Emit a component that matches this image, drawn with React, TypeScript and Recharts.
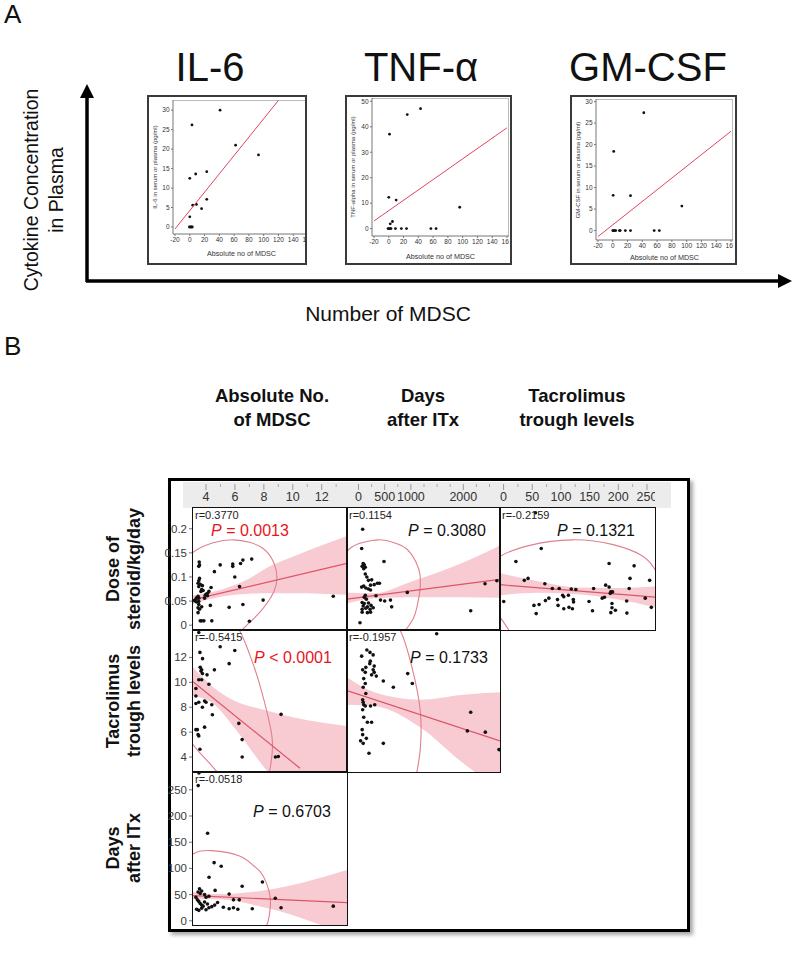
import React from 'react';
import { ScatterChart, ComposedChart, Scatter, Line, Area, XAxis, YAxis } from 'recharts';

const FONT = '"Liberation Sans", Arial, Helvetica, sans-serif';

// ---------------- Panel A data ----------------
const aXTicks = [-20, 0, 20, 40, 60, 80, 100, 120, 140, 160];
const il6YTicks = [0, 5, 10, 15, 20, 25, 30];
const tnfYTicks = [0, 10, 20, 30, 40, 50];
const gmYTicks = [0, 5, 10, 15, 20, 25, 30];

const il6Points = [
  { x: 41, y: 30 }, { x: 3, y: 26.2 }, { x: 62, y: 21 }, { x: 93, y: 18.5 }, { x: 0, y: 12.5 },
  { x: 8, y: 13.6 }, { x: 23, y: 14.2 }, { x: 23, y: 7.1 }, { x: 4, y: 5.6 }, { x: 9, y: 5.8 },
  { x: 16, y: 4.7 }, { x: 0, y: 2.6 }, { x: -0.5, y: 0 }, { x: 1, y: 0 }, { x: 2.2, y: 0 }, { x: 3.4, y: 0 },
];
const il6Fit = [{ x: -20, y: -0.5 }, { x: 120, y: 32.5 }];

const tnfPoints = [
  { x: 43, y: 47.1 }, { x: 25, y: 44.8 }, { x: 1, y: 37.1 }, { x: 0, y: 12.3 }, { x: 10, y: 11.2 },
  { x: 96, y: 8.4 }, { x: 5, y: 2.8 }, { x: 2, y: 1.9 }, { x: -1, y: 0 }, { x: 0.5, y: 0 },
  { x: 1.8, y: 0 }, { x: 3, y: 0 }, { x: 9, y: 0 }, { x: 17, y: 0 }, { x: 24, y: 0 }, { x: 57, y: 0 }, { x: 64, y: 0 },
];
const tnfFit = [{ x: -20, y: 3.0 }, { x: 160, y: 39.6 }];

const gmPoints = [
  { x: 42, y: 27.4 }, { x: 1.3, y: 18.4 }, { x: 0.5, y: 8.2 }, { x: 24, y: 8.1 }, { x: 93.5, y: 5.7 },
  { x: 0, y: 0 }, { x: 1.2, y: 0 }, { x: 2.4, y: 0 }, { x: 4, y: 0 }, { x: 9, y: 0 }, { x: 10, y: 0 },
  { x: 17, y: 0 }, { x: 24, y: 0 }, { x: 56, y: 0 }, { x: 63, y: 0 },
];
const gmFit = [{ x: -20, y: -1.4 }, { x: 160, y: 23.1 }];

// ---------------- Panel B data ----------------
const mdscMajor = [4, 6, 8, 10, 12];
const mdscMinor = [3, 5, 7, 9, 11, 13];
const daysMajor = [0, 500, 1000, 2000];
const daysMinor = [-250, 250, 750, 1250, 1500, 1750, 2250, 2500];
const tacMajor = [0, 50, 100, 150, 200, 250];
const tacMinor = [25, 75, 125, 175, 225];
const steroidTicks = [0, 0.05, 0.1, 0.15, 0.2];
const tacroTicks = [4, 6, 8, 10, 12];
const daysTicks = [0, 50, 100, 150, 200, 250];

const mdscSteroid = [
  [3.53, 0.131], [3.55, 0.125], [3.5, 0.122], [4.98, 0.125], [5.85, 0.127], [5.85, 0.122], [6.39, 0.128],
  [6.55, 0.135], [7.16, 0.137], [4.58, 0.111], [5.99, 0.1], [3.55, 0.097], [3.5, 0.092], [3.45, 0.087],
  [3.6, 0.085], [3.75, 0.082], [3.5, 0.08], [6.32, 0.08], [4.35, 0.078], [3.7, 0.074], [3.65, 0.07],
  [3.8, 0.072], [4.2, 0.07], [4.1, 0.066], [4.0, 0.064], [3.95, 0.062], [4.1, 0.061], [3.45, 0.06],
  [3.35, 0.057], [3.3, 0.054], [3.2, 0.051], [3.35, 0.048], [3.5, 0.056], [3.9, 0.056], [3.5, 0.049],
  [3.5, 0.043], [3.45, 0.036], [3.55, 0.033], [3.7, 0.038], [4.3, 0.041], [5.6, 0.037], [6.55, 0.043],
  [7.95, 0.052], [12.8, 0.06], [3.45, 0.026], [3.6, 0.009], [3.7, 0.009], [3.85, 0.009], [4.4, 0.009], [7.0, 0.008],
].map(([x, y]) => ({ x, y }));
const mdscSteroidFit = [{ x: 3.1, y: 0.053 }, { x: 13.75, y: 0.128 }];
const mdscSteroidBand = [
  { x: 3.1, range: [0.044, 0.062] }, { x: 4.7, range: [0.057, 0.071] }, { x: 7, range: [0.065, 0.097] },
  { x: 8.4, range: [0.066, 0.122] }, { x: 10, range: [0.066, 0.142] }, { x: 13.75, range: [0.063, 0.185] },
];
const mdscSteroidEllipse = [
  [2.3, 0.12], [3.1, 0.151], [4.5, 0.171], [5.9, 0.177], [7.0, 0.172], [7.9, 0.16], [8.6, 0.135],
  [8.9, 0.1], [8.7, 0.07], [8.2, 0.045], [7.7, 0.026], [7.1, 0.008], [6.2, -0.018], [5.5, -0.035],
].map(([x, y]) => ({ x, y }));

const daysSteroid = [
  [80, 0.199], [61, 0.159], [487, 0.132], [90, 0.128], [110, 0.125], [70, 0.122], [130, 0.12], [100, 0.117],
  [130, 0.106], [160, 0.1], [190, 0.093], [252, 0.094], [360, 0.087], [400, 0.087], [300, 0.084], [230, 0.083],
  [100, 0.081], [60, 0.079], [140, 0.077], [190, 0.075], [230, 0.073], [334, 0.061], [130, 0.062], [110, 0.058],
  [150, 0.054], [420, 0.052], [500, 0.05], [610, 0.052], [931, 0.068], [70, 0.047], [110, 0.045], [190, 0.046],
  [90, 0.04], [170, 0.038], [240, 0.041], [280, 0.036], [140, 0.035], [70, 0.033], [220, 0.033], [633, 0.038],
  [2141, 0.03], [2414, 0.086], [2640, 0.092], [70, 0.027], [170, 0.026], [230, 0.027], [29, 0.005],
].map(([x, y]) => ({ x, y }));
const daysSteroidFit = [{ x: -219, y: 0.054 }, { x: 2700, y: 0.095 }];
const daysSteroidBand = [
  { x: -219, range: [0.045, 0.068] }, { x: 300, range: [0.056, 0.066] }, { x: 1000, range: [0.058, 0.09] },
  { x: 2000, range: [0.058, 0.13] }, { x: 2700, range: [0.057, 0.165] },
];
const daysSteroidEllipse = [
  [-400, 0.12], [-175, 0.158], [100, 0.172], [378, 0.177], [650, 0.172], [920, 0.158], [1100, 0.13],
  [1174, 0.104], [1170, 0.07], [1120, 0.04], [1046, 0.014], [855, -0.016], [700, -0.035],
].map(([x, y]) => ({ x, y }));

const tacroSteroid = [
  [55.7, 0.233], [65.7, 0.159], [21.5, 0.132], [184, 0.128], [227.6, 0.123], [220.5, 0.097], [254.7, 0.093],
  [42.7, 0.097], [36.2, 0.093], [72, 0.086], [85, 0.076], [97, 0.076], [118, 0.075], [126, 0.074], [157, 0.076],
  [178, 0.083], [184, 0.079], [187, 0.069], [190, 0.069], [186, 0.066], [219, 0.076], [247, 0.056], [257.6, 0.037],
  [103, 0.062], [105, 0.059], [113, 0.062], [94, 0.053], [79, 0.056], [73, 0.051], [176, 0.058], [172, 0.056],
  [149, 0.049], [121.6, 0.053], [122, 0.048], [0.3, 0.049], [62, 0.043], [53, 0.041], [95, 0.041], [114, 0.037],
  [105, 0.034], [120, 0.034], [189, 0.045], [189, 0.036], [214.6, 0.05], [56.9, 0.024], [155, 0.03], [187, 0.026],
  [215, 0.025], [195, 0.031],
].map(([x, y]) => ({ x, y }));
const tacroSteroidFit = [{ x: -6.2, y: 0.084 }, { x: 264, y: 0.058 }];
const tacroSteroidBand = [
  { x: -6.2, range: [0.062, 0.108] }, { x: 60, range: [0.067, 0.091] }, { x: 130, range: [0.064, 0.078] },
  { x: 200, range: [0.053, 0.077] }, { x: 264, range: [0.037, 0.08] },
];
const tacroSteroidEllipse = [
  [20, -0.03], [-8, 0.02], [-30, 0.07], [-20, 0.12], [-6, 0.143], [44, 0.165], [120, 0.177], [191, 0.167],
  [240, 0.145], [262, 0.119], [278, 0.08], [280, 0.04], [270, 0.0], [255, -0.03],
].map(([x, y]) => ({ x, y }));

const mdscTacro = [
  [4.98, 12.85], [5.99, 12.55], [3.5, 14.0], [3.58, 12.4], [3.76, 11.9], [5.6, 11.5], [3.6, 11.2], [3.7, 11.0],
  [3.65, 10.9], [3.75, 10.7], [4.58, 11.0], [4.07, 10.6], [3.5, 10.2], [3.7, 10.2], [4.2, 9.84], [3.3, 9.5],
  [3.3, 8.9], [3.9, 8.5], [4.0, 8.4], [3.5, 8.4], [3.3, 8.3], [4.4, 8.2], [3.75, 8.0], [4.44, 7.4], [9.19, 7.43],
  [3.9, 6.4], [6.27, 6.7], [3.4, 6.2], [3.45, 5.8], [3.5, 5.7], [3.3, 6.2], [6.5, 5.4], [3.58, 4.63], [6.5, 4.0],
  [8.8, 4.0], [9.0, 4.05],
].map(([x, y]) => ({ x, y }));
const mdscTacroFit = [{ x: 3.1, y: 10.04 }, { x: 10.5, y: 3.1 }];
const mdscTacroBand = [
  { x: 3.1, range: [8.9, 11.2] }, { x: 4.5, range: [8.3, 9.6] }, { x: 6, range: [6.3, 8.5] },
  { x: 8, range: [3.2, 7.8] }, { x: 10, range: [0.5, 7.2] }, { x: 13.75, range: [-6.3, 6.5] },
];
const mdscTacroEllipse = [
  [2.2, 7], [3.1, 5.0], [4.4, 3.3], [6, 1.5], [7.8, 1.5], [8.45, 3.2], [8.6, 4.97], [8.37, 6.85],
  [7.67, 10.0], [7.0, 12.3], [6.15, 14.53], [4.8, 16.5],
].map(([x, y]) => ({ x, y }));

const daysTacro = [
  [1492, 13.9], [160, 12.6], [220, 12.4], [280, 12.2], [61, 12.1], [225, 11.7], [215, 11.5], [300, 11.3],
  [280, 11.0], [300, 10.8], [250, 10.6], [340, 10.5], [80, 11.0], [130, 10.8], [140, 11.2], [474, 10.1],
  [939, 10.7], [1027, 9.9], [665, 9.6], [100, 10.3], [130, 9.9], [90, 9.6], [140, 9.1], [80, 8.6], [90, 8.4],
  [100, 8.2], [130, 8.1], [230, 8.1], [310, 8.2], [80, 7.8], [100, 7.2], [170, 6.8], [250, 6.8], [70, 6.2],
  [80, 5.8], [150, 5.5], [40, 5.3], [90, 5.1], [474, 5.1], [2141, 7.6], [2077, 6.1], [2420, 6.0], [2680, 4.6],
  [200, 4.3],
].map(([x, y]) => ({ x, y }));
const daysTacroFit = [{ x: -219, y: 9.33 }, { x: 2700, y: 5.3 }];
const daysTacroBand = [
  { x: -219, range: [8.2, 10.4] }, { x: 300, range: [8.1, 9.2] }, { x: 1174, range: [6.4, 8.6] },
  { x: 2000, range: [3.5, 9.0] }, { x: 2700, range: [1.4, 9.2] },
];
const daysTacroEllipse = [
  [500, 15.5], [792, 14.2], [1015, 11.3], [1174, 7.9], [1180, 4.7], [1100, 2.5],
].map(([x, y]) => ({ x, y }));

const mdscDays = [
  [3.51, 282], [3.46, 258], [4.11, 167], [4.56, 111], [5.05, 104], [4.21, 83], [7.9, 74], [6.5, 66], [4.63, 58],
  [3.55, 61], [3.6, 52], [3.9, 50], [4.0, 45], [5.6, 51], [8.79, 43], [5.9, 40], [6.3, 40], [9.19, 25],
  [12.8, 28], [3.3, 45], [3.4, 40], [3.5, 37], [3.6, 33], [3.7, 30], [3.8, 28], [3.9, 36], [4.1, 32],
  [4.2, 25], [4.4, 27], [4.6, 30], [3.35, 22], [3.5, 20], [3.7, 24], [4.0, 21], [4.8, 35], [5.2, 26],
  [5.6, 23], [5.9, 25], [6.2, 22], [7.2, 23], [3.45, 55], [3.7, 57], [4.2, 47],
].map(([x, y]) => ({ x, y }));
const mdscDaysFit = [{ x: 3.1, y: 48 }, { x: 13.75, y: 34.7 }];
const mdscDaysBand = [
  { x: 3.1, range: [41, 55] }, { x: 4.7, range: [41, 51] }, { x: 8, range: [26, 58] }, { x: 13.75, range: [-27, 97] },
];
const mdscDaysEllipse = [
  [2.2, 100], [3.1, 127.5], [4.4, 134], [6.27, 124], [7.3, 105], [7.9, 88], [8.37, 55], [8.45, 28], [8.3, 0], [8.0, -20],
].map(([x, y]) => ({ x, y }));

// ---------------- layout ----------------
const COL_X = [193, 347, 500];
const COL_W = [154, 153, 155];
const ROW_Y = [508, 630, 772];
const ROW_H = [122, 142, 153];
const COL_DOMAIN: [number, number][] = [[3.1, 13.75], [-219, 2700], [-6.2, 264]];
const ROW_DOMAIN: [number, number][] = [[-0.01, 0.243], [2.8, 14.2], [-8, 284]];

const PINK_BAND = '#f8cbd2';
const FIT_RED = '#dc5468';
const ELLIPSE = '#e07f8f';

function Dot(props: any) {
  const { cx, cy } = props;
  if (cx == null || cy == null) return <g />;
  return <circle cx={cx} cy={cy} r={1.4} fill="#111" />;
}
function BigDot(props: any) {
  const { cx, cy } = props;
  if (cx == null || cy == null) return <g />;
  return <circle cx={cx} cy={cy} r={1.8} fill="#111" />;
}
const NoShape = () => <g />;

function Txt(props: {
  x: number; y: number; size: number; children: any; weight?: any; rotate?: boolean;
  color?: string; anchor?: 'center' | 'left'; italic?: boolean;
}) {
  const { x, y, size, children, weight, rotate, color, anchor = 'center' } = props;
  const tx = anchor === 'center' ? '-50%' : '0';
  return (
    <div
      style={{
        position: 'absolute', left: x, top: y, fontSize: size, fontFamily: FONT, fontWeight: weight || 'normal',
        color: color || '#111', whiteSpace: 'nowrap', lineHeight: 1,
        transform: `translate(${tx},-50%)` + (rotate ? ' rotate(-90deg)' : ''),
        fontStyle: props.italic ? 'italic' : 'normal',
      }}
    >
      {children}
    </div>
  );
}

type Box = { l: number; t: number; w: number; h: number };

function APanel(props: {
  box: Box; plot: Box; xDomain: [number, number]; yDomain: [number, number]; yTicks: number[];
  points: { x: number; y: number }[]; fit: { x: number; y: number }[]; yTitle: string; yTitleX: number; xTitleY: number;
}) {
  const { box, plot, xDomain, yDomain, yTicks, points, fit, yTitle, yTitleX, xTitleY } = props;
  const yAxisW = 16;
  const xAxisH = 14;
  const b = 2;
  return (
    <div
      style={{
        position: 'absolute', left: box.l, top: box.t, width: box.w, height: box.h,
        border: `${b}px solid #3a3a3a`, boxSizing: 'border-box', overflow: 'hidden', background: '#fff',
      }}
    >
      <div style={{ position: 'absolute', left: plot.l - box.l - b, top: plot.t - box.t - b, width: plot.w, height: plot.h, borderTop: '1px solid #bbb', borderRight: '1px solid #bbb', boxSizing: 'border-box' }} />
      <div style={{ position: 'absolute', left: plot.l - box.l - b - yAxisW, top: plot.t - box.t - b }}>
        <ScatterChart width={yAxisW + plot.w} height={plot.h + xAxisH} margin={{ top: 0, right: 0, left: 0, bottom: 0 }}>
          <XAxis
            type="number" dataKey="x" domain={xDomain} ticks={aXTicks} interval={0} allowDataOverflow
            height={xAxisH} tickSize={2} tickMargin={1} stroke="#777"
            tick={{ fontSize: 6.5, fill: '#333', fontFamily: FONT }}
          />
          <YAxis
            type="number" dataKey="y" domain={yDomain} ticks={yTicks} interval={0} allowDataOverflow
            width={yAxisW} tickSize={2} tickMargin={1.5} stroke="#777"
            tick={{ fontSize: 6.5, fill: '#333', fontFamily: FONT }}
          />
          <Scatter data={points} shape={Dot} isAnimationActive={false} />
          <Scatter data={fit} line={{ stroke: '#e0455e', strokeWidth: 1 }} shape={NoShape} isAnimationActive={false} />
        </ScatterChart>
      </div>
      <Txt x={yTitleX - box.l - b} y={plot.t + plot.h / 2 - box.t - b} size={6} rotate color="#333">{yTitle}</Txt>
      <Txt x={plot.l + plot.w / 2 - box.l - b} y={xTitleY - box.t - b} size={7.2} color="#333">Absolute no of MDSC</Txt>
    </div>
  );
}

function Cell(props: {
  r: number; c: number; pts: { x: number; y: number }[]; fit: { x: number; y: number }[];
  band: { x: number; range: number[] }[]; ellipse: { x: number; y: number }[];
  yTicks?: number[];
}) {
  const { r, c, pts, fit, band, ellipse, yTicks } = props;
  const showY = !!yTicks;
  const yw = showY ? 40 : 0;
  return (
    <div style={{ position: 'absolute', left: COL_X[c] - yw, top: ROW_Y[r] }}>
      <ComposedChart width={COL_W[c] + yw} height={ROW_H[r]} data={band} margin={{ top: 0, right: 0, left: 0, bottom: 0 }}>
        <XAxis type="number" dataKey="x" domain={COL_DOMAIN[c]} allowDataOverflow hide />
        <YAxis
          type="number" dataKey="y" domain={ROW_DOMAIN[r]} allowDataOverflow hide={!showY} width={yw}
          ticks={yTicks} interval={0} tickSize={4} tickMargin={2} axisLine={false} stroke="#777"
          tick={{ fontSize: 11.5, fill: '#3a3a3a', fontFamily: FONT }}
        />
        <Area dataKey="range" type="monotone" fill={PINK_BAND} fillOpacity={1} stroke="none" isAnimationActive={false} />
        <Line data={ellipse} dataKey="y" type="natural" stroke={ELLIPSE} strokeWidth={1.1} dot={false} isAnimationActive={false} />
        <Line data={fit} dataKey="y" type="linear" stroke={FIT_RED} strokeWidth={1.2} dot={false} isAnimationActive={false} />
        <Scatter data={pts} dataKey="y" shape={BigDot} isAnimationActive={false} />
      </ComposedChart>
    </div>
  );
}

function StripAxis(props: { c: number; major: number[]; minor: number[] }) {
  const { c, major, minor } = props;
  const all = [...major, ...minor].sort((a, b) => a - b);
  const majorSet = new Set(major);
  const tick = (p: any) => {
    const v = p.payload.value;
    if (majorSet.has(v)) {
      return (
        <g>
          <line x1={p.x} x2={p.x} y1={p.y} y2={p.y + 6} stroke="#999" />
          <text x={p.x} y={p.y + 17} textAnchor="middle" fontSize={12.5} fill="#333" fontFamily={FONT}>{v}</text>
        </g>
      );
    }
    return <line x1={p.x} x2={p.x} y1={p.y} y2={p.y + 3} stroke="#aaa" />;
  };
  return (
    <div style={{ position: 'absolute', left: COL_X[c], top: 483 }}>
      <ScatterChart width={COL_W[c]} height={25} margin={{ top: 0, right: 0, left: 0, bottom: 0 }}>
        <XAxis
          type="number" dataKey="x" domain={COL_DOMAIN[c]} allowDataOverflow ticks={all} interval={0}
          height={24} tickSize={0} tickMargin={0} axisLine={false} tickLine={false} tick={tick}
        />
        <YAxis type="number" dataKey="y" hide domain={[0, 1]} />
      </ScatterChart>
    </div>
  );
}

function PText(props: { x: number; y: number; op: string; val: string; red?: boolean }) {
  return (
    <div
      style={{
        position: 'absolute', left: props.x, top: props.y, transform: 'translate(0,-50%)', fontFamily: FONT,
        fontSize: 16, lineHeight: 1, whiteSpace: 'nowrap', color: props.red ? '#e8141b' : '#111',
      }}
    >
      <span style={{ fontStyle: 'italic' }}>P</span> {props.op} {props.val}
    </div>
  );
}

function RText(props: { x: number; y: number; children: string }) {
  return (
    <div style={{ position: 'absolute', left: props.x, top: props.y, fontFamily: FONT, fontSize: 11, lineHeight: 1, color: '#222', whiteSpace: 'nowrap' }}>
      {props.children}
    </div>
  );
}

export default function App() {
  const cellBorder = (r: number, c: number) => (
    <div
      key={`b${r}${c}`}
      style={{
        position: 'absolute', left: COL_X[c] - 1, top: ROW_Y[r] - 1, width: COL_W[c] + 2, height: ROW_H[r] + 2,
        border: '1.5px solid #111', boxSizing: 'border-box', pointerEvents: 'none',
      }}
    />
  );
  return (
    <div style={{ position: 'absolute', left: 0, top: 0, width: 800, height: 956, background: '#fff', fontFamily: FONT, overflow: 'hidden' }}>
      {/* ---------- Panel A ---------- */}
      <Txt x={4} y={14} size={26} anchor="left">A</Txt>
      <Txt x={210} y={67} size={40}>IL-6</Txt>
      <Txt x={421} y={67} size={40}>TNF-α</Txt>
      <Txt x={648} y={67} size={40}>GM-CSF</Txt>

      <Txt x={32} y={190} size={19.5} rotate>Cytokine Concentration</Txt>
      <Txt x={57} y={190} size={19.5} rotate>in Plasma</Txt>
      <Txt x={388} y={313} size={21}>Number of MDSC</Txt>

      <svg width={800} height={956} style={{ position: 'absolute', left: 0, top: 0, pointerEvents: 'none' }}>
        <line x1={87} y1={282} x2={87} y2={95} stroke="#000" strokeWidth={3.5} />
        <polygon points="87,84 80,98 94,98" fill="#000" />
        <line x1={86} y1={281} x2={780} y2={281} stroke="#000" strokeWidth={3.5} />
        <polygon points="792,281 778,274 778,288" fill="#000" />
      </svg>

      <APanel
        box={{ l: 147, t: 95, w: 160, h: 170 }} plot={{ l: 173, t: 100, w: 137, h: 134 }}
        xDomain={[-22.7, 162.7]} yDomain={[-1.8, 32.6]} yTicks={il6YTicks} points={il6Points} fit={il6Fit}
        yTitle="IL-6 in serum or plasma (pg/ml)" yTitleX={155} xTitleY={254}
      />
      <APanel
        box={{ l: 345, t: 95, w: 167, h: 170 }} plot={{ l: 372, t: 98, w: 137, h: 138 }}
        xDomain={[-22.7, 162.7]} yDomain={[-2.9, 51.3]} yTicks={tnfYTicks} points={tnfPoints} fit={tnfFit}
        yTitle="TNF-alpha in serum or plasma (pg/ml)" yTitleX={353} xTitleY={257}
      />
      <APanel
        box={{ l: 570, t: 95, w: 167, h: 170 }} plot={{ l: 596, t: 99, w: 137, h: 141 }}
        xDomain={[-22.7, 162.7]} yDomain={[-2.2, 30.6]} yTicks={gmYTicks} points={gmPoints} fit={gmFit}
        yTitle="GM-CSF in serum or plasma (pg/ml)" yTitleX={578} xTitleY={258}
      />

      {/* ---------- Panel B ---------- */}
      <Txt x={4} y={346} size={26} anchor="left">B</Txt>

      <Txt x={272} y={396} size={18.5} weight="bold">Absolute No.</Txt>
      <Txt x={272} y={420} size={18.5} weight="bold">of MDSC</Txt>
      <Txt x={423} y={396} size={18.5} weight="bold">Days</Txt>
      <Txt x={423} y={420} size={18.5} weight="bold">after ITx</Txt>
      <Txt x={577} y={396} size={18.5} weight="bold">Tacrolimus</Txt>
      <Txt x={577} y={420} size={18.5} weight="bold">trough levels</Txt>

      <Txt x={113} y={569} size={18} weight="bold" rotate>Dose of</Txt>
      <Txt x={134} y={569} size={18} weight="bold" rotate>steroid/kg/day</Txt>
      <Txt x={113} y={701} size={18} weight="bold" rotate>Tacrolimus</Txt>
      <Txt x={134} y={701} size={18} weight="bold" rotate>trough levels</Txt>
      <Txt x={113} y={848} size={18} weight="bold" rotate>Days</Txt>
      <Txt x={134} y={848} size={18} weight="bold" rotate>after ITx</Txt>

      <div
        style={{
          position: 'absolute', left: 168, top: 478, width: 522, height: 454, border: '3px solid #000',
          boxSizing: 'border-box', background: '#fff', boxShadow: '3px 3px 4px rgba(0,0,0,0.35)',
        }}
      />
      <div style={{ position: 'absolute', left: 183, top: 482, width: 488, height: 26, background: '#ececec' }} />

      <StripAxis c={0} major={mdscMajor} minor={mdscMinor} />
      <StripAxis c={1} major={daysMajor} minor={daysMinor} />
      <StripAxis c={2} major={tacMajor} minor={tacMinor} />

      <Cell r={0} c={0} pts={mdscSteroid} fit={mdscSteroidFit} band={mdscSteroidBand} ellipse={mdscSteroidEllipse} yTicks={steroidTicks} />
      <Cell r={0} c={1} pts={daysSteroid} fit={daysSteroidFit} band={daysSteroidBand} ellipse={daysSteroidEllipse} />
      <Cell r={0} c={2} pts={tacroSteroid} fit={tacroSteroidFit} band={tacroSteroidBand} ellipse={tacroSteroidEllipse} />
      <Cell r={1} c={0} pts={mdscTacro} fit={mdscTacroFit} band={mdscTacroBand} ellipse={mdscTacroEllipse} yTicks={tacroTicks} />
      <Cell r={1} c={1} pts={daysTacro} fit={daysTacroFit} band={daysTacroBand} ellipse={daysTacroEllipse} />
      <Cell r={2} c={0} pts={mdscDays} fit={mdscDaysFit} band={mdscDaysBand} ellipse={mdscDaysEllipse} yTicks={daysTicks} />

      {cellBorder(0, 0)}{cellBorder(0, 1)}{cellBorder(0, 2)}
      {cellBorder(1, 0)}{cellBorder(1, 1)}
      {cellBorder(2, 0)}

      <RText x={195} y={510}>r=0.3770</RText>
      <RText x={349} y={510}>r=0.1154</RText>
      <RText x={502} y={510}>r=-0.2159</RText>
      <RText x={195} y={632}>r=-0.5415</RText>
      <RText x={349} y={632}>r=-0.1957</RText>
      <RText x={195} y={774}>r=-0.0518</RText>

      <PText x={211} y={531} op="=" val="0.0013" red />
      <PText x={408} y={531} op="=" val="0.3080" />
      <PText x={557} y={531} op="=" val="0.1321" />
      <PText x={254} y={658} op="<" val="0.0001" red />
      <PText x={410} y={658} op="=" val="0.1733" />
      <PText x={253} y={812} op="=" val="0.6703" />
    </div>
  );
}
